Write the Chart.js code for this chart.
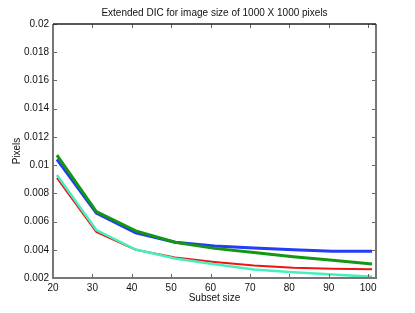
<!DOCTYPE html>
<html>
<head>
<meta charset="utf-8">
<script src="https://cdn.jsdelivr.net/npm/chart.js@4"></script>
<style>
  html, body { margin: 0; padding: 0; background: #fff; }
  #wrap { width: 415px; height: 313px; }
</style>
</head>
<body>
<div id="wrap"><canvas id="myChart" width="415" height="313"></canvas></div>
<script>
// subset sizes and error (pixels) per method
const subsetSizes = [21, 31, 41, 51, 61, 71, 81, 91, 101];
const blueValues  = [0.0104, 0.0066, 0.0052, 0.00454, 0.00426, 0.00412, 0.0040, 0.0039, 0.0039];
const greenValues = [0.0107, 0.0067, 0.00534, 0.00454, 0.0041, 0.0038, 0.0035, 0.00326, 0.0030];
const redValues   = [0.0091, 0.00527, 0.0040, 0.00345, 0.00314, 0.00289, 0.00272, 0.00265, 0.00262];
const cyanValues  = [0.0093, 0.0054, 0.00402, 0.00338, 0.00298, 0.0026, 0.00241, 0.00225, 0.00208];
const xTicks = [20, 30, 40, 50, 60, 70, 80, 90, 100];
const yTicks = [0.002, 0.004, 0.006, 0.008, 0.01, 0.012, 0.014, 0.016, 0.018, 0.02];
const chartTitle = 'Extended DIC for image size of 1000 X 1000 pixels';

const font = "'Liberation Sans', Arial, Helvetica, sans-serif";

function points(values){
    return values.map((v, i) => ({x: subsetSizes[i], y: v}));
}

// matlab style box with inward ticks
const boxPlugin = {
    id: 'box',
    afterDraw(chart){
        const ctx = chart.ctx;
        const a = chart.chartArea;
        const xs = chart.scales.x, ys = chart.scales.y;
        ctx.save();
        ctx.lineWidth = 1;
        ctx.strokeStyle = '#666';
        ctx.beginPath();
        xs.ticks.forEach(t => {
            const px = Math.round(xs.getPixelForValue(t.value)) + 0.5;
            ctx.moveTo(px, a.bottom); ctx.lineTo(px, a.bottom - 4);
            ctx.moveTo(px, a.top); ctx.lineTo(px, a.top + 4);
        });
        ys.ticks.forEach(t => {
            const py = Math.round(ys.getPixelForValue(t.value)) + 0.5;
            ctx.moveTo(a.left, py); ctx.lineTo(a.left + 4, py);
            ctx.moveTo(a.right, py); ctx.lineTo(a.right - 4, py);
        });
        ctx.stroke();
        ctx.lineWidth = 2;
        ctx.strokeStyle = '#777';
        ctx.beginPath();
        ctx.moveTo(a.left, a.top); ctx.lineTo(a.left, a.bottom);
        ctx.lineTo(a.right, a.bottom); ctx.lineTo(a.right, a.top);
        ctx.stroke();
        ctx.lineWidth = 1.5;
        ctx.strokeStyle = '#222';
        ctx.beginPath();
        ctx.moveTo(a.left, a.top); ctx.lineTo(a.right, a.top);
        ctx.stroke();
        ctx.restore();
    }
};

const ctx = document.getElementById('myChart');
new Chart(ctx, {
    type: 'line',
    data: {
        datasets: [
            {data: points(greenValues), borderColor: 'rgb(20,150,20)', borderWidth: 3},
            {data: points(blueValues), borderColor: 'rgb(35,60,245)', borderWidth: 3},
            {data: points(cyanValues), borderColor: 'rgb(70,240,190)', borderWidth: 2.5},
            {data: points(redValues), borderColor: 'rgb(240,20,20)', borderWidth: 2}
        ]
    },
    options: {
        responsive: false,
        animation: false,
        devicePixelRatio: 1,
        layout: {padding: {left: 0, right: 39, top: 0, bottom: 0}},
        elements: {point: {radius: 0}, line: {tension: 0}},
        plugins: {
            legend: {display: false},
            tooltip: {enabled: false},
            title: {display: false}
        },
        scales: {
            x: {
                type: 'linear',
                min: 20,
                max: 102,
                afterBuildTicks: s => { s.ticks = xTicks.map(v => ({value: v})); },
                afterFit: s => { s.height = 35; },
                grid: {display: false, drawTicks: false},
                border: {display: false},
                ticks: {color: '#111', font: {family: font, size: 10}, padding: 4, maxRotation: 0},
                title: {display: true, text: 'Subset size', color: '#111',
                        font: {family: font, size: 10}, padding: {top: 0, bottom: 9}}
            },
            // top axis only carries the chart title, centred over the plot
            xTop: {
                type: 'linear',
                position: 'top',
                min: 20,
                max: 102,
                afterFit: s => { s.height = 24; },
                grid: {display: false, drawTicks: false},
                border: {display: false},
                ticks: {display: false},
                title: {display: true, text: chartTitle, color: '#111',
                        font: {family: font, size: 10}, padding: {top: 7, bottom: 0}}
            },
            y: {
                type: 'linear',
                min: 0.002,
                max: 0.02,
                afterBuildTicks: s => { s.ticks = yTicks.map(v => ({value: v})); },
                afterFit: s => { s.width = 53; },
                grid: {display: false, drawTicks: false},
                border: {display: false},
                ticks: {color: '#111', font: {family: font, size: 10}, padding: 4,
                        callback: v => String(+v.toFixed(3))},
                title: {display: true, text: 'Pixels', color: '#111',
                        font: {family: font, size: 10}, padding: {top: 11, bottom: 0}}
            }
        }
    },
    plugins: [boxPlugin]
});
</script>
</body>
</html>
